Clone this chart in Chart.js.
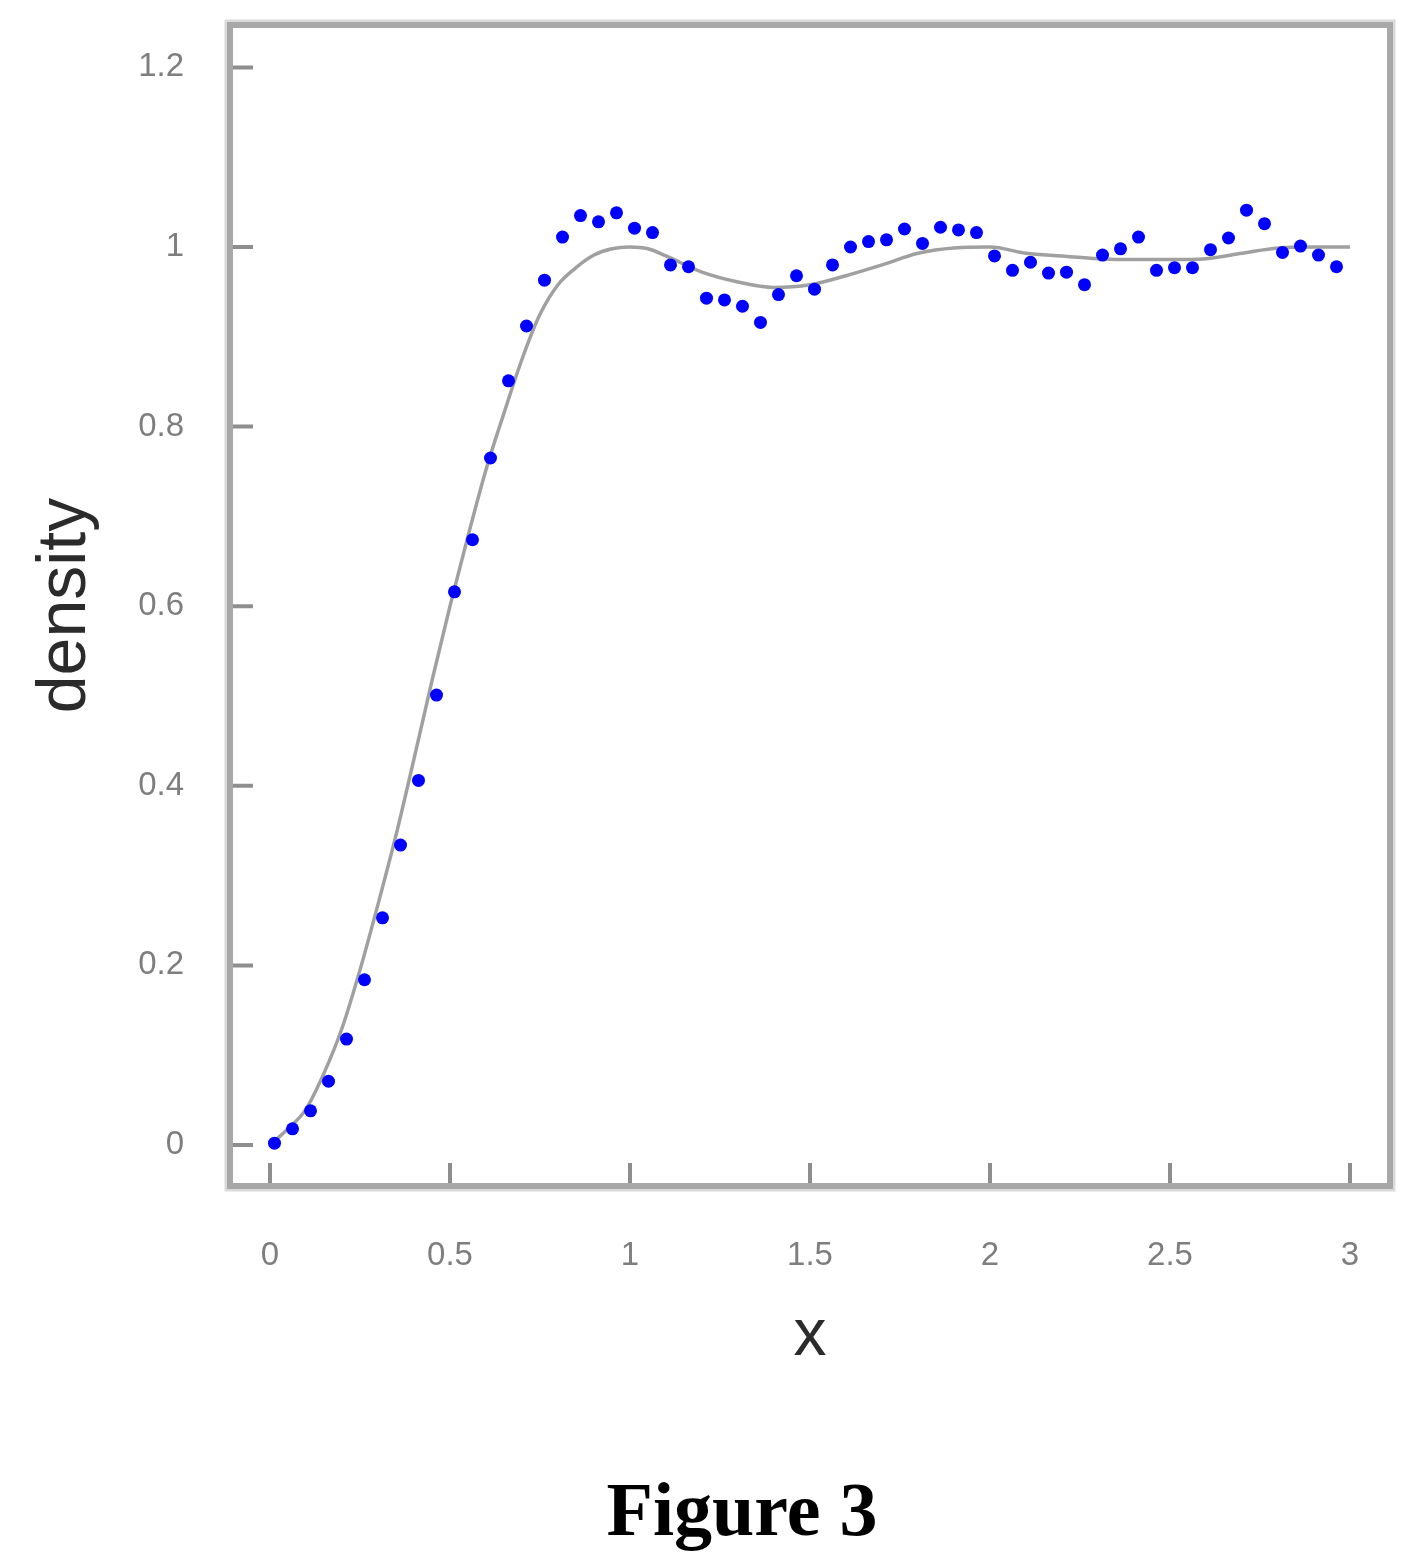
<!DOCTYPE html>
<html><head><meta charset="utf-8">
<script src="https://cdn.jsdelivr.net/npm/chart.js@4.4.1/dist/chart.umd.min.js"></script>
<style>
html,body{margin:0;padding:0;background:#fff;overflow:hidden}
#wrap{position:relative;width:1415px;height:1568px}
canvas{display:block;position:absolute;left:0;top:0}
#fig{position:absolute;left:442px;top:1471px;width:600px;text-align:center;font-family:'Liberation Serif',serif;font-weight:bold;font-size:76px;line-height:76px;color:#000}
</style>
</head><body>
<div id="wrap">
<canvas id="c" width="1415" height="1568"></canvas>
<div id="fig">Figure 3</div>
</div>
<script>
const xTickValues = [0, 0.5, 1, 1.5, 2, 2.5, 3];
const xTickLabels = ['0', '0.5', '1', '1.5', '2', '2.5', '3'];
const yTickValues = [0, 0.2, 0.4, 0.6, 0.8, 1, 1.2];
const yTickLabels = ['0', '0.2', '0.4', '0.6', '0.8', '1', '1.2'];

// simulated density (blue points)
const pointX = [0.0125, 0.0625, 0.1125, 0.1625, 0.2125, 0.2625, 0.3125, 0.3625, 0.4125, 0.4625,
  0.5125, 0.5625, 0.6125, 0.6625, 0.7125, 0.7625, 0.8125, 0.8625, 0.9125, 0.9625,
  1.0125, 1.0625, 1.1125, 1.1625, 1.2125, 1.2625, 1.3125, 1.3625, 1.4125, 1.4625,
  1.5125, 1.5625, 1.6125, 1.6625, 1.7125, 1.7625, 1.8125, 1.8625, 1.9125, 1.9625,
  2.0125, 2.0625, 2.1125, 2.1625, 2.2125, 2.2625, 2.3125, 2.3625, 2.4125, 2.4625,
  2.5125, 2.5625, 2.6125, 2.6625, 2.7125, 2.7625, 2.8125, 2.8625, 2.9125, 2.9625];
const pointY = [0.002, 0.018, 0.038, 0.071, 0.118, 0.184, 0.253, 0.334, 0.406, 0.501,
  0.616, 0.674, 0.765, 0.851, 0.912, 0.963, 1.011, 1.035, 1.028, 1.038,
  1.021, 1.016, 0.980, 0.978, 0.943, 0.941, 0.934, 0.916, 0.947, 0.968,
  0.953, 0.980, 1.000, 1.006, 1.008, 1.020, 1.004, 1.022, 1.019, 1.016,
  0.990, 0.974, 0.983, 0.971, 0.972, 0.958, 0.991, 0.998, 1.011, 0.974,
  0.977, 0.977, 0.997, 1.010, 1.041, 1.026, 0.994, 1.001, 0.991, 0.978];

// theoretical density (gray curve)
const curveX = [0, 0.05, 0.1, 0.15, 0.2, 0.25, 0.3, 0.35, 0.4, 0.45, 0.5, 0.55, 0.6, 0.65, 0.7,
  0.75, 0.8, 0.85, 0.9, 0.95, 1.0, 1.05, 1.1, 1.2, 1.3, 1.4, 1.5, 1.6, 1.7, 1.8, 1.9,
  2.0, 2.1, 2.2, 2.3, 2.4, 2.5, 2.6, 2.7, 2.8, 2.9, 3.0];
const curveY = [0, 0.018, 0.04, 0.08, 0.13, 0.195, 0.268, 0.345, 0.43, 0.517, 0.6, 0.678, 0.752, 0.815, 0.875,
  0.925, 0.958, 0.977, 0.991, 0.998, 1.0, 0.998, 0.99, 0.972, 0.961, 0.955, 0.958, 0.968, 0.98, 0.993, 0.999,
  1.0, 0.993, 0.99, 0.987, 0.986, 0.986, 0.987, 0.993, 0.999, 1.0, 1.0];

const points = pointX.map((x, i) => ({x: x, y: pointY[i]}));
const curve = curveX.map((x, i) => ({x: x, y: curveY[i]}));

const boxPlugin = {
  id: 'boxPlugin',
  afterDatasetsDraw(chart) {
    const {ctx, chartArea: a, scales} = chart;
    ctx.save();
    ctx.strokeStyle = '#8e8e8e';
    ctx.lineWidth = 4;
    ctx.beginPath();
    yTickValues.forEach(v => {
      const py = scales.y.getPixelForValue(v);
      ctx.moveTo(a.left, py); ctx.lineTo(a.left + 23, py);
    });
    xTickValues.forEach(v => {
      const px = scales.x.getPixelForValue(v);
      ctx.moveTo(px, a.bottom); ctx.lineTo(px, a.bottom - 23);
    });
    ctx.stroke();
    ctx.strokeStyle = '#dadada';
    ctx.lineWidth = 3;
    ctx.strokeRect(a.left - 4, a.top - 4, a.right - a.left + 8, a.bottom - a.top + 8);
    ctx.strokeStyle = '#a8a8a8';
    ctx.lineWidth = 6;
    ctx.strokeRect(a.left, a.top, a.right - a.left, a.bottom - a.top);
    ctx.restore();
  }
};

new Chart(document.getElementById('c'), {
  type: 'scatter',
  data: {
    datasets: [
      {
        type: 'scatter',
        data: points,
        backgroundColor: '#0000ff',
        borderColor: '#0000ff',
        pointRadius: 6.5,
        pointBorderWidth: 0,
        order: 0
      },
      {
        type: 'line',
        data: curve,
        borderColor: '#a0a0a0',
        borderWidth: 3.5,
        pointRadius: 0,
        fill: false,
        tension: 0.4,
        cubicInterpolationMode: 'monotone',
        order: 1
      }
    ]
  },
  options: {
    responsive: false,
    animation: false,
    devicePixelRatio: 1,
    layout: {padding: {top: 25, right: 25, left: 0, bottom: 104}},
    plugins: {
      legend: {display: false},
      tooltip: {enabled: false},
      title: {display: false}
    },
    scales: {
      x: {
        type: 'linear',
        min: -0.1111,
        max: 3.1111,
        afterBuildTicks: s => { s.ticks = xTickValues.map(v => ({value: v})); },
        afterFit: s => { s.height = 278; s.paddingLeft = 0; s.paddingRight = 0; },
        ticks: {
          callback: (v, i) => xTickLabels[i],
          font: {family: 'Liberation Sans', size: 33},
          color: '#7e7e7e',
          padding: 50,
          maxRotation: 0,
          autoSkip: false
        },
        grid: {display: false, drawTicks: false},
        border: {display: false},
        title: {
          display: true,
          text: 'x',
          color: '#2b2b2b',
          font: {family: 'Liberation Sans', size: 66, lineHeight: 1},
          padding: {top: 0, bottom: 94}
        }
      },
      y: {
        type: 'linear',
        min: -0.04566,
        max: 1.2472,
        afterBuildTicks: s => { s.ticks = yTickValues.map(v => ({value: v})); },
        afterFit: s => { s.width = 230; s.paddingTop = 0; s.paddingBottom = 0; },
        ticks: {
          callback: (v, i) => yTickLabels[i],
          font: {family: 'Liberation Sans', size: 33},
          color: '#7e7e7e',
          padding: 46,
          autoSkip: false
        },
        grid: {display: false, drawTicks: false},
        border: {display: false},
        title: {
          display: true,
          text: 'density',
          color: '#2b2b2b',
          font: {family: 'Liberation Sans', size: 68, lineHeight: 1},
          padding: {top: 32, bottom: 0}
        }
      }
    }
  },
  plugins: [boxPlugin]
});
</script>
</body></html>
